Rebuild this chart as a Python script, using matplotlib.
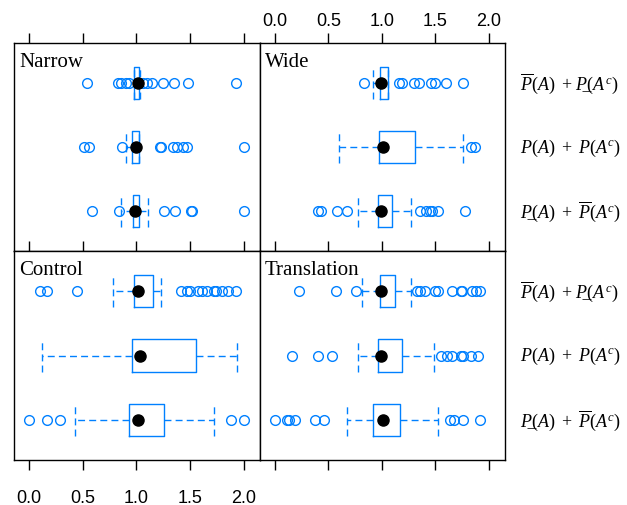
import matplotlib
matplotlib.use("Agg")
import matplotlib.pyplot as plt

plt.rcParams['font.family'] = 'Liberation Sans'
plt.rcParams['mathtext.fontset'] = 'custom'
plt.rcParams['mathtext.rm'] = 'Liberation Serif'
plt.rcParams['mathtext.it'] = 'Liberation Serif:italic'

BLUE = '#0080ff'

# rows, top to bottom (\u0332 = combining low line for the lower bound)
row_labels = ['$\\overline{P}(A)\\ +\\, P\u0332(A^c)$',
              '$P(A)\\ +\\ P(A^c)$',
              '$P\u0332(A)\\ +\\ \\overline{P}(A^c)$']

# box stats per row: whisker low, q1, median, q3, whisker high
narrow_box = [[0.98, 0.98, 1.01, 1.02, 1.03],
              [0.90, 0.96, 1.00, 1.02, 1.02],
              [0.86, 0.97, 0.99, 1.02, 1.11]]
narrow_out = [[0.54, 0.83, 0.86, 0.90, 0.93, 1.06, 1.10, 1.14, 1.25, 1.35, 1.48, 1.93],
              [0.51, 0.56, 0.87, 1.22, 1.23, 1.34, 1.38, 1.43, 1.47, 2.00],
              [0.59, 0.84, 1.26, 1.36, 1.51, 1.52, 2.00]]

wide_box = [[0.92, 0.98, 0.99, 1.06, 1.06],
            [0.60, 0.97, 1.01, 1.31, 1.76],
            [0.78, 0.96, 0.99, 1.09, 1.27]]
wide_out = [[0.83, 1.16, 1.19, 1.30, 1.35, 1.46, 1.50, 1.60, 1.76],
            [1.83, 1.87],
            [0.40, 0.43, 0.58, 0.67, 1.36, 1.41, 1.45, 1.47, 1.52, 1.78]]

control_box = [[0.78, 0.98, 1.01, 1.15, 1.23],
               [0.12, 0.96, 1.03, 1.55, 1.94],
               [0.43, 0.93, 1.01, 1.26, 1.72]]
control_out = [[0.10, 0.17, 0.45, 1.41, 1.47, 1.50, 1.57, 1.61, 1.66, 1.72, 1.74, 1.80, 1.85, 1.93],
               [],
               [0.00, 0.17, 0.29, 1.88, 2.00]]

transl_box = [[0.81, 0.98, 0.99, 1.12, 1.27],
              [0.78, 0.96, 0.99, 1.19, 1.49],
              [0.67, 0.92, 1.01, 1.17, 1.52]]
transl_out = [[0.22, 0.57, 0.76, 1.33, 1.36, 1.40, 1.50, 1.52, 1.65, 1.74, 1.75, 1.84, 1.88, 1.92],
              [0.16, 0.40, 0.53, 1.55, 1.61, 1.65, 1.74, 1.76, 1.83, 1.90],
              [0.00, 0.11, 0.13, 0.19, 0.37, 0.46, 1.64, 1.67, 1.76, 1.92]]

xticks = [0.0, 0.5, 1.0, 1.5, 2.0]
xticklabels = ['0.0', '0.5', '1.0', '1.5', '2.0']

fig = plt.figure(figsize=(6.27, 5.06), dpi=100)
W, H = 627, 506

def make_ax(x0, y0, x1, y1):
    return fig.add_axes([x0 / W, 1 - y1 / H, (x1 - x0) / W, (y1 - y0) / H])

ax_n = make_ax(14, 44, 260, 252)
ax_w = make_ax(260, 44, 505, 252)
ax_c = make_ax(14, 252, 260, 461)
ax_t = make_ax(260, 252, 505, 461)

panels = [(ax_n, 'Narrow', narrow_box, narrow_out),
          (ax_w, 'Wide', wide_box, wide_out),
          (ax_c, 'Control', control_box, control_out),
          (ax_t, 'Translation', transl_box, transl_out)]

positions = [3, 2, 1]
dash = (0, (5, 3))

for ax, name, box, out in panels:
    stats = []
    for b, o in zip(box, out):
        stats.append(dict(whislo=b[0], q1=b[1], med=b[2], q3=b[3], whishi=b[4], fliers=o))
    ax.bxp(stats, positions=positions, widths=0.5, capwidths=0.5,
           orientation='horizontal', showfliers=True,
           boxprops=dict(color=BLUE, linewidth=1.0),
           whiskerprops=dict(color=BLUE, linewidth=1.0, linestyle=dash),
           capprops=dict(color=BLUE, linewidth=1.0, linestyle=dash),
           medianprops=dict(visible=False),
           flierprops=dict(marker='o', markerfacecolor='none', markeredgecolor=BLUE,
                           markersize=7, markeredgewidth=1.0))
    ax.plot([b[2] for b in box], positions, 'o', color='black', markersize=8, zorder=5)
    ax.set_xlim(-0.14, 2.15)
    ax.set_ylim(0.38, 3.62)
    ax.set_yticks([])
    ax.text(0.02, 0.955, name, transform=ax.transAxes, ha='left', va='top',
            fontsize=15, family='Liberation Serif')
    ax.set_xticks(xticks)
    ax.tick_params(axis='x', which='both', top=True, bottom=True, direction='out',
                   length=7, width=1, labelsize=13)
    ax.xaxis.set_tick_params(labeltop=False, labelbottom=False)
    for s in ax.spines.values():
        s.set_linewidth(1.0)

# outer tick labels, lattice style
ax_c.tick_params(axis='x', labelbottom=True, pad=14)
ax_c.set_xticklabels(xticklabels)
ax_w.tick_params(axis='x', labeltop=True, pad=3)
ax_w.set_xticklabels(xticklabels)

for ax in (ax_w, ax_t):
    for p, lab in zip(positions, row_labels):
        ax.text(1.063, p, lab, transform=ax.get_yaxis_transform(), ha='left',
                va='center', fontsize=13)

fig.savefig('out.png', dpi=100)
